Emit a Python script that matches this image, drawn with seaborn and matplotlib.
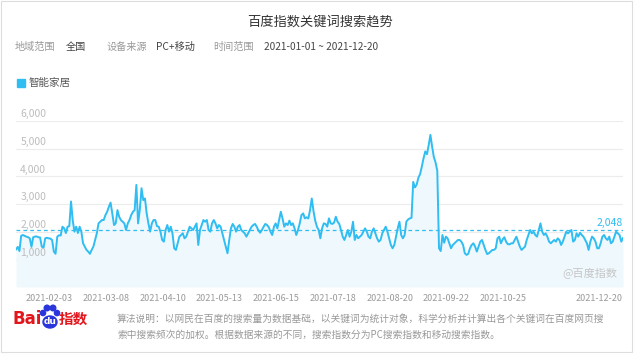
import numpy as np
import pandas as pd
import matplotlib
matplotlib.use("Agg")
import matplotlib.pyplot as plt
import matplotlib.patches as mpatches
import matplotlib.transforms as mtransforms
import seaborn as sns

# chart data
keyword = "智能家居"
start_date = "2021-01-01"
end_date = "2021-12-20"
average = 2048

jan = [1350, 1450, 1300, 1850, 1880, 1850, 1820, 1800, 1760, 1450,
       1800, 1820, 1830, 1800, 1790, 1460, 1420, 1760, 1780, 1760,
       1750, 1700, 1280, 1200, 1820, 1870, 1860, 2180, 2120, 1950,
       2180]
feb = [2200, 3090, 2400, 2000, 2180, 1950, 2180, 2000, 1580, 1460,
       1340, 1280, 1200, 1340, 1460, 1700, 1940, 2300, 2360, 2420,
       2420, 2600, 2720, 2900, 3050, 2660, 2240, 2300]
mar = [2780, 2540, 2420, 2360, 2300, 2060, 2300, 2420, 2600, 2720,
       2780, 3690, 2300, 2800, 3570, 3140, 3200, 2660, 2300, 2000,
       2300, 2420, 2420, 2200, 2180, 2000, 1700, 1640, 2060, 2240,
       2000]
apr = [2180, 1940, 1400, 1340, 1580, 1820, 1880, 1940, 1760, 1820,
       2000, 2180, 2120, 2060, 2180, 2300, 1520, 2060, 2240, 2420,
       2360, 2420, 2060, 2000, 2300, 2420, 2300, 2120, 2240, 2180]
may = [1940, 1700, 1460, 1220, 1700, 2120, 2280, 2180, 2000, 2180,
       2240, 2060, 2000, 1940, 1820, 1940, 2060, 2180, 2240, 2280,
       2180, 2040, 1960, 2060, 2180, 2280, 2240, 2160, 2000, 1880,
       2180]
jun = [2300, 2120, 2420, 2720, 2480, 2180, 2300, 2240, 2400, 2240,
       2300, 2120, 1880, 2060, 2300, 2600, 2660, 2480, 2520, 2480,
       2780, 3200, 2750, 2400, 2180, 2060, 1760, 2120, 2300, 2280]
jul = [2180, 2480, 2300, 2280, 2330, 2540, 2360, 2280, 2060, 1820,
       1700, 1880, 2060, 1820, 2000, 2360, 1700, 1880, 1760, 1820,
       1880, 2000, 2120, 2000, 1820, 1760, 2000, 2120, 1940, 1760,
       1640]
aug = [1700, 1940, 2060, 2180, 2000, 1760, 1520, 1400, 1520, 1820,
       2120, 2360, 1880, 1760, 1880, 2360, 2440, 2480, 2500, 3800,
       3600, 3700, 3950, 4080, 4350, 4650, 4900, 4800, 5130, 5500,
       5070]
sep = [4700, 4500, 4200, 1400, 1300, 1880, 1600, 1820, 1760, 1580,
       1400, 1520, 1580, 1640, 1700, 1700, 1640, 1520, 1220, 1160,
       1200, 1400, 1520, 1580, 1460, 1280, 1460, 1640, 1700, 1520]
oct_ = [1340, 1190, 1220, 1280, 1340, 1340, 1400, 1760, 1820, 1580,
        1720, 1800, 1640, 1550, 1540, 1580, 1580, 1700, 1820, 1640,
        1460, 1340, 1400, 1460, 1700, 1880, 2060, 1940, 2000, 1880,
        1820]
nov = [2060, 2300, 2000, 1880, 1940, 1820, 1640, 1580, 1640, 1700,
       1640, 1760, 1700, 1520, 1640, 1820, 2000, 1940, 2000, 2060,
       1640, 1700, 1940, 1820, 1960, 1880, 1820, 1700, 1580, 1340]
dec = [1640, 1820, 1760, 1640, 1400, 1400, 1580, 1820, 1880, 1760,
       1700, 1820, 1580, 1640, 1820, 2000, 1940, 1880, 1640, 1780]

y_ticks = [1000, 2000, 3000, 4000, 5000, 6000]
x_tick_labels = ["2021-02-03", "2021-03-08", "2021-04-10", "2021-05-13",
                 "2021-06-15", "2021-07-18", "2021-08-20", "2021-09-22",
                 "2021-10-25", "2021-12-20"]

values = jan + feb + mar + apr + may + jun + jul + aug + sep + oct_ + nov + dec
dates = pd.date_range(start_date, end_date, freq="D")
df = pd.DataFrame({"date": dates, "value": values})

sns.set_style("white")
plt.rcParams["font.family"] = ["Noto Sans CJK SC", "DejaVu Sans"]

W, H = 640, 358
fig = plt.figure(figsize=(6.4, 3.58), dpi=100)

def fx(px):
    return px / W

def fy(py):
    return 1 - py / H

line_color = "#2fbdf2"

# frame round the whole card
fig.patches.append(mpatches.Rectangle((fx(1), fy(352)), fx(631), 351 / H,
                                      transform=fig.transFigure, fill=False,
                                      edgecolor="#dddddd", lw=0.8))

ax = fig.add_axes([fx(16), fy(287), fx(607), 166 / H])
ax.fill_between(df["date"], df["value"], color="#eef8fd", lw=0)
sns.lineplot(data=df, x="date", y="value", color=line_color, lw=1.4, ax=ax)
ax.axhline(average, color=line_color, lw=0.9, ls=(0, (3, 2.5)))

ax.set_xlim(dates[0], dates[-1])
ax.set_ylim(0, 6000)
ax.set_yticks(y_ticks)
ax.set_yticklabels([])
ax.grid(axis="y", color="#ececec", lw=0.8)
ax.grid(axis="x", visible=False)
for sp in ax.spines.values():
    sp.set_visible(False)
ax.set_xlabel("")
ax.set_ylabel("")

ax.set_xticks(pd.to_datetime(x_tick_labels))
ax.set_xticklabels(x_tick_labels, ha="right", fontsize=6.5, color="#9a9a9a")
ax.tick_params(axis="both", length=0)
ax.tick_params(axis="x", pad=5)

ytrans = ax.get_yaxis_transform()
for v in y_ticks:
    ax.text(0.007, v + 60, f"{v:,}", transform=ytrans, ha="left", va="bottom",
            fontsize=7.5, color="#bdbdbd")

ax.text(1.0, average + 70, f"{average:,}", transform=ytrans, ha="right",
        va="bottom", fontsize=7.5, color=line_color)

fig.text(fx(617), fy(274), "@百度指数", ha="right", va="center",
         fontsize=8, color="#c6c6c6")

# header
fig.text(fx(320), fy(22), "百度指数关键词搜索趋势", ha="center", va="center",
         fontsize=9.5, color="#333333")
header = [("地域范围", 15, "#999999"), ("全国", 66, "#444444"),
          ("设备来源", 107, "#999999"), ("PC+移动", 156, "#444444"),
          ("时间范围", 213, "#999999"),
          (f"{start_date} ~ {end_date}", 264, "#444444")]
for txt, px, col in header:
    fig.text(fx(px), fy(47), txt, ha="left", va="center", fontsize=7.3, color=col)

# legend
fig.patches.append(mpatches.Rectangle((fx(17), fy(87)), fx(8), 8 / H,
                                      transform=fig.transFigure, color=line_color))
fig.text(fx(29), fy(83), keyword, ha="left", va="center", fontsize=7.6, color="#555555")

# logo
red = "#e3161c"
blue = "#2a36dc"
fig.text(fx(13), fy(319), "Bai", ha="left", va="center", fontsize=12,
         fontweight="bold", color=red, family=["DejaVu Sans"])
fig.patches.append(mpatches.Ellipse((fx(50), fy(322)), fx(14), 12 / H,
                                    transform=fig.transFigure, color=blue))
for tx, ty, r in [(43, 313, 2.6), (47, 308, 2.8), (53, 308, 2.8), (57, 313, 2.6)]:
    fig.patches.append(mpatches.Ellipse((fx(tx), fy(ty)), fx(r * 2), r * 2 / H,
                                        transform=fig.transFigure, color=blue))
fig.text(fx(50), fy(322), "du", ha="center", va="center", fontsize=6.5,
         fontweight="bold", color="white", family=["DejaVu Sans"])
fig.text(fx(59), fy(319), "指数", ha="left", va="center", fontsize=10.5,
         fontweight="bold", color=red)

note1 = "算法说明：以网民在百度的搜索量为数据基础，以关键词为统计对象，科学分析并计算出各个关键词在百度网页搜"
note2 = "索中搜索频次的加权。根据数据来源的不同，搜索指数分为PC搜索指数和移动搜索指数。"
fig.text(fx(117), fy(319), note1, ha="left", va="center", fontsize=7, color="#999999")
fig.text(fx(117), fy(335), note2, ha="left", va="center", fontsize=7, color="#999999")

fig.savefig("out.png", dpi=100, facecolor="white")
